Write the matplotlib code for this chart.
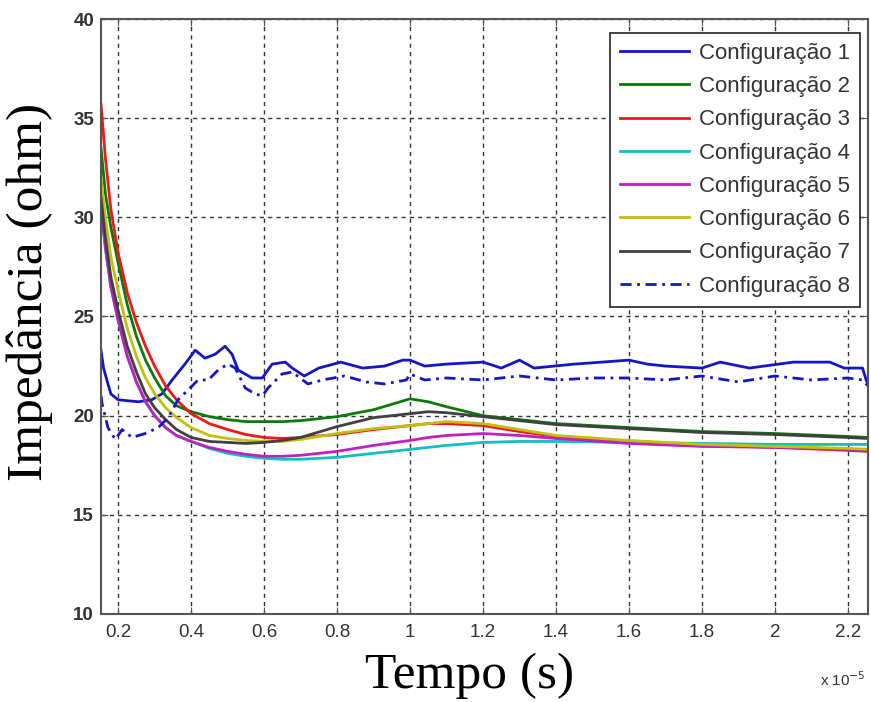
import matplotlib
matplotlib.use("Agg")
import matplotlib.pyplot as plt
import numpy as np

# time axis in units of 1e-5 s
t_common = [0.153, 0.165, 0.18, 0.2, 0.225, 0.25, 0.275, 0.3, 0.33, 0.36, 0.4, 0.45, 0.5,
            0.55, 0.6, 0.65, 0.7, 0.8, 0.9, 1.0, 1.05, 1.1, 1.2, 1.3, 1.4, 1.6, 1.8, 2.0,
            2.2, 2.255]

cfg2 = [33.5, 31.2, 29.5, 27.7, 25.6, 24.0, 22.8, 21.9, 21.0, 20.5, 20.2, 19.95, 19.8,
        19.7, 19.7, 19.7, 19.75, 19.95, 20.3, 20.85, 20.7, 20.45, 20.0, 19.8, 19.6, 19.4,
        19.2, 19.1, 18.95, 18.9]
cfg3 = [35.7, 33.0, 30.4, 28.2, 26.2, 24.7, 23.5, 22.5, 21.5, 20.8, 20.1, 19.6, 19.3,
        19.05, 18.9, 18.85, 18.9, 19.05, 19.3, 19.5, 19.6, 19.6, 19.5, 19.2, 18.95, 18.7,
        18.5, 18.4, 18.25, 18.2]
cfg4 = [30.5, 28.4, 26.5, 24.8, 23.0, 21.7, 20.7, 20.0, 19.4, 19.0, 18.7, 18.35, 18.1,
        17.95, 17.85, 17.8, 17.8, 17.9, 18.1, 18.3, 18.4, 18.5, 18.65, 18.7, 18.7, 18.65,
        18.6, 18.55, 18.55, 18.55]
cfg5 = [30.5, 28.5, 26.5, 24.8, 23.0, 21.7, 20.7, 20.0, 19.4, 19.0, 18.7, 18.4, 18.2,
        18.05, 17.95, 17.95, 18.0, 18.2, 18.5, 18.75, 18.9, 19.0, 19.1, 19.0, 18.85, 18.6,
        18.45, 18.4, 18.3, 18.3]
cfg6 = [32.0, 30.0, 28.0, 26.3, 24.4, 23.0, 21.9, 21.1, 20.4, 19.9, 19.4, 19.0, 18.85,
        18.75, 18.7, 18.7, 18.8, 19.1, 19.35, 19.5, 19.6, 19.7, 19.6, 19.3, 19.0, 18.75,
        18.55, 18.45, 18.35, 18.3]
cfg7 = [31.0, 29.0, 27.0, 25.3, 23.5, 22.2, 21.1, 20.4, 19.8, 19.3, 18.9, 18.7, 18.65,
        18.6, 18.65, 18.75, 18.9, 19.45, 19.9, 20.1, 20.2, 20.15, 19.95, 19.75, 19.55,
        19.35, 19.15, 19.05, 18.9, 18.85]

t_cfg1 = [0.153, 0.16, 0.172, 0.18, 0.2, 0.255, 0.292, 0.32, 0.348, 0.383, 0.411, 0.438,
          0.466, 0.493, 0.512, 0.529, 0.567, 0.595, 0.622, 0.658, 0.677, 0.71, 0.75, 0.81,
          0.87, 0.93, 0.98, 1.0, 1.04, 1.1, 1.2, 1.25, 1.3, 1.34, 1.45, 1.6, 1.65, 1.7,
          1.8, 1.85, 1.93, 2.05, 2.15, 2.19, 2.24, 2.25, 2.255]
cfg1 = [23.3, 22.4, 21.6, 21.1, 20.8, 20.7, 20.8, 21.1, 21.8, 22.6, 23.3, 22.9, 23.1,
        23.5, 23.1, 22.3, 21.9, 21.9, 22.6, 22.7, 22.4, 22.0, 22.4, 22.7, 22.4, 22.5, 22.8,
        22.8, 22.5, 22.6, 22.7, 22.4, 22.8, 22.4, 22.6, 22.8, 22.6, 22.5, 22.4, 22.7, 22.4,
        22.7, 22.7, 22.4, 22.4, 21.8, 21.6]

t_cfg8 = [0.153, 0.156, 0.172, 0.192, 0.211, 0.238, 0.274, 0.31, 0.337, 0.364, 0.392,
          0.419, 0.447, 0.474, 0.501, 0.521, 0.548, 0.575, 0.595, 0.611, 0.649, 0.677,
          0.72, 0.76, 0.82, 0.88, 0.93, 0.99, 1.0, 1.04, 1.1, 1.2, 1.3, 1.4, 1.5, 1.6,
          1.7, 1.8, 1.9, 2.0, 2.1, 2.2, 2.24, 2.255]
cfg8 = [21.0, 20.6, 19.4, 18.8, 19.3, 18.9, 19.1, 19.4, 19.9, 20.8, 21.3, 21.8, 21.8,
        22.3, 22.6, 22.4, 21.4, 21.1, 21.0, 21.4, 22.1, 22.2, 21.6, 21.8, 22.0, 21.7, 21.6,
        21.8, 22.1, 21.8, 21.9, 21.8, 22.0, 21.8, 21.9, 21.9, 21.8, 22.0, 21.7, 22.0, 21.8,
        21.9, 21.8, 21.5]

labels = [f"Configuração {i}" for i in range(1, 9)]
colors = ["#1414c8", "#0a7a0a", "#f01818", "#10c0c0", "#c020c0", "#c0c010", "#404040", "#1414c8"]

x_ticks = [0.2, 0.4, 0.6, 0.8, 1.0, 1.2, 1.4, 1.6, 1.8, 2.0, 2.2]
x_tick_labels = ["0.2", "0.4", "0.6", "0.8", "1", "1.2", "1.4", "1.6", "1.8", "2", "2.2"]
y_ticks = [10, 15, 20, 25, 30, 35, 40]

fig = plt.figure(figsize=(8.71, 7.02), dpi=100)
ax = fig.add_axes([101 / 871, 1 - 614 / 702, 767 / 871, 595 / 702])

series = [(t_cfg1, cfg1), (t_common, cfg2), (t_common, cfg3), (t_common, cfg4),
          (t_common, cfg5), (t_common, cfg6), (t_common, cfg7), (t_cfg8, cfg8)]
for i, (tx, vals) in enumerate(series):
    ls = (0, (4, 2, 1, 2)) if i == 7 else "-"
    ax.plot(tx, vals, color=colors[i], lw=2.0, linestyle=ls, label=labels[i])

ax.set_xlim(0.153, 2.255)
ax.set_ylim(10, 40)
ax.set_xticks(x_ticks)
ax.set_xticklabels(x_tick_labels)
ax.set_yticks(y_ticks)
ax.grid(True, color="#333333", linestyle=(0, (3, 3)), lw=1.0)

ax.tick_params(direction="in", top=True, right=True, length=5, colors="#555555",
               labelcolor="#333333", labelsize=13.5)
ax.tick_params(axis="x", pad=7)
ax.tick_params(axis="y", pad=5)
for lab in ax.get_xticklabels() + ax.get_yticklabels():
    lab.set_family("Liberation Sans")
for lab in ax.get_yticklabels():
    lab.set_weight("bold")
for sp in ax.spines.values():
    sp.set_color("#555555")
    sp.set_linewidth(1.5)

leg = ax.legend(loc="upper right", bbox_to_anchor=(860 / 871, 1 - 33 / 702),
                bbox_transform=fig.transFigure, borderaxespad=0, fancybox=False,
                framealpha=1, edgecolor="#222222", handlelength=3.1, handletextpad=0.45,
                labelspacing=0.55, borderpad=0.45,
                prop={"family": "Liberation Sans", "size": 16})
leg.get_frame().set_linewidth(1.2)
for txt in leg.get_texts():
    txt.set_color("#333333")

fig.text(30 / 871, 1 - 292 / 702, "Impedância (ohm)", rotation=90, ha="center", va="center",
         family="Liberation Serif", fontsize=37)
fig.text(470 / 871, 1 - 676 / 702, "Tempo (s)", ha="center", va="center",
         family="Liberation Serif", fontsize=37)
fig.text(866 / 871, 1 - 680 / 702, r"x 10$^{-5}$", ha="right", va="center",
         family="Liberation Sans", fontsize=11, color="#333333")

fig.savefig("out.png", dpi=100)
